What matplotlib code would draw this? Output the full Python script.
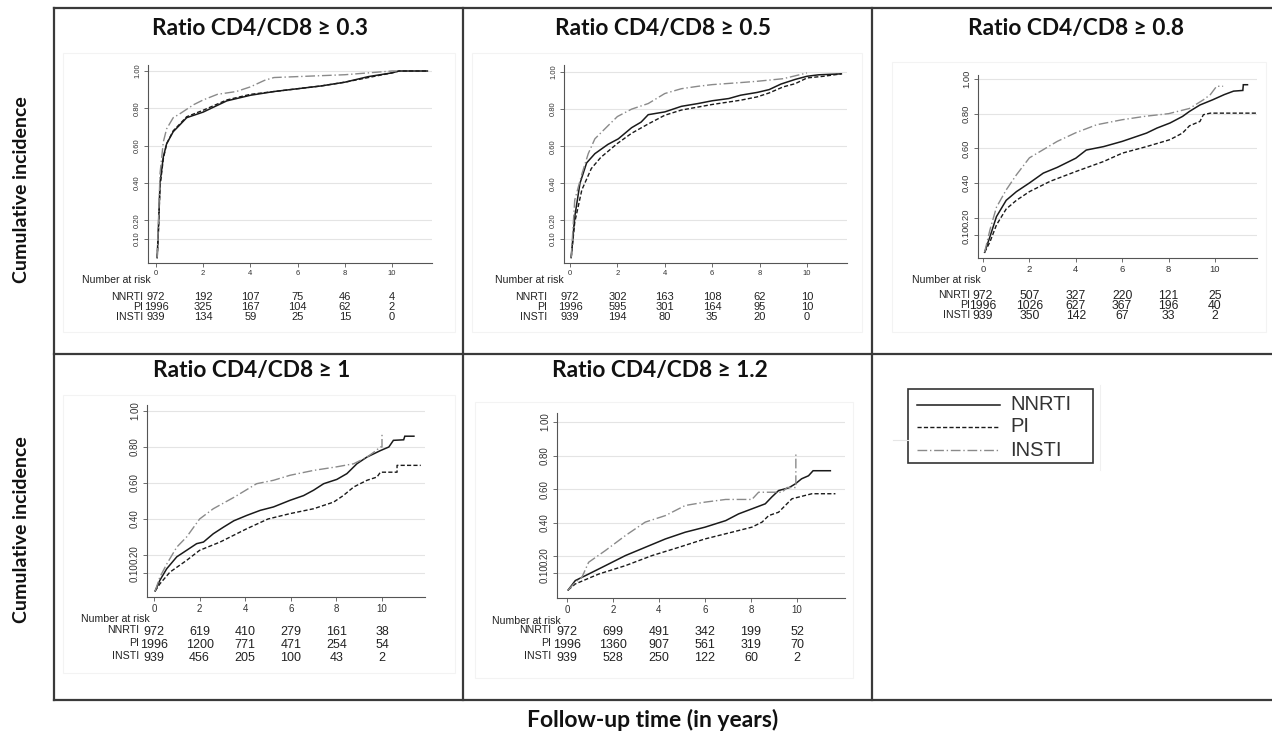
import matplotlib
matplotlib.use("Agg")
import matplotlib.pyplot as plt
from matplotlib.lines import Line2D
from matplotlib.patches import Rectangle
from matplotlib.transforms import blended_transform_factory

# ---------------- data ----------------
groups = ["NNRTI", "PI", "INSTI"]
titles = ["Ratio CD4/CD8 \u2265 0.3", "Ratio CD4/CD8 \u2265 0.5", "Ratio CD4/CD8 \u2265 0.8",
          "Ratio CD4/CD8 \u2265 1", "Ratio CD4/CD8 \u2265 1.2"]
risk_times = [0, 2, 4, 6, 8, 10]
x_ticks = [0, 2, 4, 6, 8, 10]
y_ticks = [0.10, 0.20, 0.40, 0.60, 0.80, 1.00]
y_ticklabels = ["0.10", "0.20", "0.40", "0.60", "0.80", "1.00"]

# Panel 1: ratio >= 0.3
p1_nnrti_t = [0.05, 0.1, 0.17, 0.31, 0.45, 0.73, 1.0, 1.3, 2.0, 3.0, 4.0, 5.0, 6.0, 7.0, 8.0, 9.0, 10.0, 10.3, 11.5]
p1_nnrti_y = [0, 0.15, 0.40, 0.54, 0.61, 0.675, 0.71, 0.75, 0.78, 0.84, 0.87, 0.89, 0.905, 0.92, 0.94, 0.97, 0.99, 1.0, 1.0]
p1_pi_t = [0.05, 0.1, 0.17, 0.31, 0.45, 0.73, 1.0, 1.3, 2.0, 3.0, 4.0, 5.0, 6.0, 7.0, 8.0, 9.0, 10.0, 10.3, 11.5]
p1_pi_y = [0, 0.13, 0.38, 0.53, 0.61, 0.68, 0.715, 0.755, 0.79, 0.845, 0.875, 0.89, 0.905, 0.92, 0.94, 0.965, 0.99, 1.0, 1.0]
p1_insti_t = [0.05, 0.1, 0.17, 0.31, 0.45, 0.73, 1.0, 1.6, 2.0, 2.6, 3.4, 4.0, 4.6, 5.0, 6.0, 8.0, 9.0, 10.0, 10.2]
p1_insti_y = [0, 0.18, 0.45, 0.62, 0.69, 0.75, 0.77, 0.82, 0.845, 0.875, 0.89, 0.915, 0.95, 0.965, 0.97, 0.98, 0.99, 1.0, 1.0]
p1_risk_nnrti = [972, 192, 107, 75, 46, 4]
p1_risk_pi = [1996, 325, 167, 104, 62, 2]
p1_risk_insti = [939, 134, 59, 25, 15, 0]

# Panel 2: ratio >= 0.5
p2_nnrti_t = [0.05, 0.2, 0.42, 0.7, 1.05, 1.6, 2.04, 2.6, 3.0, 3.3, 4.0, 4.7, 5.4, 6.0, 6.7, 7.2, 7.9, 8.4, 8.9, 9.5, 10.0, 10.5, 11.45]
p2_nnrti_y = [0, 0.22, 0.40, 0.51, 0.56, 0.61, 0.64, 0.70, 0.73, 0.77, 0.785, 0.815, 0.83, 0.845, 0.857, 0.875, 0.89, 0.905, 0.935, 0.96, 0.977, 0.985, 0.99]
p2_pi_t = [0.05, 0.2, 0.5, 0.9, 1.3, 2.0, 2.6, 3.3, 4.0, 4.7, 6.0, 7.2, 7.9, 8.4, 9.0, 9.5, 10.0, 10.7, 11.45]
p2_pi_y = [0, 0.19, 0.365, 0.48, 0.54, 0.615, 0.67, 0.72, 0.767, 0.795, 0.825, 0.848, 0.866, 0.887, 0.92, 0.937, 0.968, 0.977, 0.99]
p2_insti_t = [0.05, 0.2, 0.5, 0.77, 1.05, 1.6, 2.0, 2.6, 3.3, 4.0, 4.7, 5.4, 6.0, 7.2, 7.9, 9.0, 10.0]
p2_insti_y = [0, 0.31, 0.45, 0.56, 0.64, 0.71, 0.76, 0.80, 0.83, 0.884, 0.91, 0.923, 0.932, 0.943, 0.95, 0.964, 0.995]
p2_risk_nnrti = [972, 302, 163, 108, 62, 10]
p2_risk_pi = [1996, 595, 301, 164, 95, 10]
p2_risk_insti = [939, 194, 80, 35, 20, 0]

# Panel 3: ratio >= 0.8
p3_nnrti_t = [0.07, 0.3, 0.58, 1.0, 1.44, 2.0, 2.6, 3.2, 4.0, 4.45, 5.2, 6.0, 7.05, 7.5, 8.06, 8.6, 8.9, 9.35, 9.9, 10.4, 10.8, 11.2, 11.22, 11.4]
p3_nnrti_y = [0, 0.09, 0.206, 0.30, 0.35, 0.40, 0.457, 0.49, 0.543, 0.59, 0.61, 0.64, 0.688, 0.717, 0.746, 0.784, 0.813, 0.85, 0.88, 0.91, 0.93, 0.934, 0.967, 0.967]
p3_pi_t = [0.07, 0.3, 0.58, 1.0, 1.44, 2.0, 2.9, 4.0, 5.2, 6.0, 7.05, 8.06, 8.6, 8.9, 9.35, 9.5, 9.8, 11.95]
p3_pi_y = [0, 0.06, 0.158, 0.25, 0.30, 0.35, 0.41, 0.466, 0.524, 0.572, 0.61, 0.65, 0.688, 0.73, 0.755, 0.794, 0.803, 0.803]
p3_insti_t = [0.07, 0.3, 0.58, 1.0, 1.44, 2.0, 3.2, 4.0, 4.9, 6.0, 7.0, 8.0, 8.9, 9.5, 9.8, 10.07, 10.35]
p3_insti_y = [0, 0.13, 0.26, 0.36, 0.447, 0.545, 0.64, 0.69, 0.736, 0.765, 0.785, 0.80, 0.83, 0.88, 0.91, 0.958, 0.958]
p3_risk_nnrti = [972, 507, 327, 220, 121, 25]
p3_risk_pi = [1996, 1026, 627, 367, 196, 40]
p3_risk_insti = [939, 350, 142, 67, 33, 2]

# Panel 4: ratio >= 1
p4_nnrti_t = [0.05, 0.26, 0.56, 1.0, 1.43, 1.87, 2.17, 2.6, 3.05, 3.5, 4.07, 4.66, 5.24, 5.97, 6.56, 7.0, 7.44, 8.02, 8.46, 8.9, 9.34, 9.93, 10.3, 10.5, 10.95, 11.0, 11.4]
p4_nnrti_y = [0, 0.06, 0.124, 0.19, 0.226, 0.263, 0.272, 0.318, 0.355, 0.39, 0.42, 0.448, 0.467, 0.504, 0.53, 0.56, 0.596, 0.62, 0.652, 0.707, 0.744, 0.78, 0.80, 0.837, 0.84, 0.86, 0.86]
p4_pi_t = [0.05, 0.26, 0.7, 1.43, 2.0, 2.9, 4.07, 5.0, 5.97, 7.0, 7.88, 8.3, 8.76, 9.34, 9.78, 9.93, 10.66, 10.66, 11.7]
p4_pi_y = [0, 0.04, 0.105, 0.17, 0.226, 0.272, 0.346, 0.40, 0.43, 0.457, 0.494, 0.53, 0.578, 0.615, 0.633, 0.66, 0.66, 0.698, 0.698]
p4_insti_t = [0.05, 0.26, 0.56, 1.0, 1.43, 2.0, 2.6, 3.5, 4.5, 5.24, 5.97, 7.0, 8.02, 8.76, 9.34, 9.63, 9.93, 10.0, 10.0]
p4_insti_y = [0, 0.078, 0.15, 0.244, 0.30, 0.40, 0.457, 0.52, 0.596, 0.615, 0.643, 0.67, 0.69, 0.707, 0.744, 0.77, 0.80, 0.80, 0.874]
p4_risk_nnrti = [972, 619, 410, 279, 161, 38]
p4_risk_pi = [1996, 1200, 771, 471, 254, 54]
p4_risk_insti = [939, 456, 205, 100, 43, 2]

# Panel 5: ratio >= 1.2
p5_nnrti_t = [0.05, 0.36, 0.94, 1.67, 2.54, 3.4, 4.28, 5.14, 6.0, 6.9, 7.46, 8.04, 8.62, 8.9, 9.2, 9.64, 9.93, 10.2, 10.5, 10.7, 11.45]
p5_nnrti_y = [0, 0.056, 0.095, 0.145, 0.205, 0.254, 0.304, 0.344, 0.374, 0.413, 0.453, 0.483, 0.513, 0.553, 0.592, 0.608, 0.632, 0.662, 0.68, 0.71, 0.71]
p5_pi_t = [0.05, 0.36, 1.38, 2.54, 3.7, 4.86, 6.0, 7.17, 8.04, 8.48, 8.77, 9.2, 9.49, 9.78, 10.07, 10.65, 11.67]
p5_pi_y = [0, 0.036, 0.095, 0.145, 0.205, 0.254, 0.304, 0.344, 0.374, 0.404, 0.443, 0.463, 0.503, 0.543, 0.553, 0.573, 0.573]
p5_insti_t = [0.05, 0.36, 0.65, 0.94, 1.67, 2.54, 3.4, 4.28, 5.14, 6.0, 6.9, 8.04, 8.33, 9.35, 9.57, 9.95, 9.95]
p5_insti_y = [0, 0.046, 0.076, 0.165, 0.235, 0.324, 0.404, 0.443, 0.503, 0.523, 0.539, 0.539, 0.582, 0.582, 0.61, 0.61, 0.82]
p5_risk_nnrti = [972, 699, 491, 342, 199, 52]
p5_risk_pi = [1996, 1360, 907, 561, 319, 70]
p5_risk_insti = [939, 528, 250, 122, 60, 2]

# ---------------- layout ----------------
W, H = 1272, 732
fig = plt.figure(figsize=(W / 100, H / 100), dpi=100)
fig.patch.set_facecolor("white")

TITLE_FONT = ["Lato", "DejaVu Sans"]
STATA_FONT = ["Liberation Sans", "DejaVu Sans"]


def fx(x):
    return x / W


def fy(y):
    return 1 - y / H


def fline(xs, ys, **kw):
    fig.add_artist(Line2D([fx(x) for x in xs], [fy(y) for y in ys],
                          transform=fig.transFigure, **kw))


# outer grid frame
frame_kw = dict(color="#3a3a3a", lw=1.6)
fline([54, W], [8, 8], **frame_kw)
fline([54, W], [354, 354], **frame_kw)
fline([54, W], [700, 700], **frame_kw)
fline([54, 54], [8, 700], **frame_kw)
fline([463, 463], [8, 700], **frame_kw)
fline([872, 872], [8, 700], **frame_kw)

styles = {
    "NNRTI": dict(color="#1a1a1a", lw=1.1, ls="-"),
    "PI": dict(color="#1a1a1a", lw=1.0, ls=(0, (3.0, 1.6))),
    "INSTI": dict(color="#8a8a8a", lw=1.0, ls=(0, (7.0, 2.0, 1.0, 2.0))),
}

# pixel geometry per panel: x0, x10, y0 (value 0), y1 (value 1), left, right, top, bottom
panels = [
    dict(title=titles[0], tcx=260, tcy=29, geo=(156, 392, 257.7, 71, 148, 432, 65, 263),
         series=[(p1_nnrti_t, p1_nnrti_y), (p1_pi_t, p1_pi_y), (p1_insti_t, p1_insti_y)],
         risk=[p1_risk_nnrti, p1_risk_pi, p1_risk_insti],
         nr=(82, 280), rows=(297, 307, 317), labr=143, labdy=0, lfs=7.6, fs=8.0, tfs=5.5,
         frame=(63, 53, 455, 332)),
    dict(title=titles[1], tcx=663, tcy=29, geo=(570, 807, 257.6, 72, 564, 847, 65, 263),
         series=[(p2_nnrti_t, p2_nnrti_y), (p2_pi_t, p2_pi_y), (p2_insti_t, p2_insti_y)],
         risk=[p2_risk_nnrti, p2_risk_pi, p2_risk_insti],
         nr=(495, 280), rows=(297, 307, 317), labr=547, labdy=0, lfs=7.6, fs=8.0, tfs=5.5,
         frame=(472, 53, 862, 332)),
    dict(title=titles[2], tcx=1076, tcy=29, geo=(983, 1215, 252.3, 79, 978, 1257, 75, 258),
         series=[(p3_nnrti_t, p3_nnrti_y), (p3_pi_t, p3_pi_y), (p3_insti_t, p3_insti_y)],
         risk=[p3_risk_nnrti, p3_risk_pi, p3_risk_insti],
         nr=(912, 280), rows=(296, 306, 316), labr=970, labdy=1, lfs=7.6, fs=8.8, tfs=6.8,
         frame=(892, 62, 1266, 332)),
    dict(title=titles[3], tcx=252, tcy=371, geo=(154, 382, 591, 411, 147, 425, 405, 597),
         series=[(p4_nnrti_t, p4_nnrti_y), (p4_pi_t, p4_pi_y), (p4_insti_t, p4_insti_y)],
         risk=[p4_risk_nnrti, p4_risk_pi, p4_risk_insti],
         nr=(81, 619), rows=(632, 645, 658), labr=139, labdy=2, lfs=7.6, fs=9.0, tfs=7.0,
         frame=(63, 395, 455, 673)),
    dict(title=titles[4], tcx=660, tcy=371, geo=(567, 797, 590, 422, 557, 845, 413, 598),
         series=[(p5_nnrti_t, p5_nnrti_y), (p5_pi_t, p5_pi_y), (p5_insti_t, p5_insti_y)],
         risk=[p5_risk_nnrti, p5_risk_pi, p5_risk_insti],
         nr=(492, 621), rows=(632, 645, 658), labr=551, labdy=2, lfs=7.6, fs=9.0, tfs=7.0,
         frame=(475, 402, 853, 678)),
]

for p in panels:
    x0, x10, y0, y1, left, right, top, bottom = p["geo"]
    # faint Stata graph-region frame
    fl, ft, fr, fb = p["frame"]
    fig.add_artist(Rectangle((fx(fl), fy(fb)), (fr - fl) / W, (fb - ft) / H,
                             transform=fig.transFigure, fill=False, ec="#f3f3f3", lw=0.8))
    fig.text(fx(p["tcx"]), fy(p["tcy"]), p["title"], ha="center", va="center",
             fontsize=16.3, fontweight="bold", family=TITLE_FONT, color="#111111")

    ax = fig.add_axes([fx(left), fy(bottom), (right - left) / W, (bottom - top) / H])
    sx = (x10 - x0) / 10.0
    sy = (y0 - y1)
    ax.set_xlim((left - x0) / sx, (right - x0) / sx)
    ax.set_ylim((y0 - bottom) / sy, (y0 - top) / sy)
    ax.patch.set_alpha(0)
    for s in ["top", "right"]:
        ax.spines[s].set_visible(False)
    for s in ["left", "bottom"]:
        ax.spines[s].set_color("#555555")
        ax.spines[s].set_linewidth(0.8)
    ax.set_xticks(x_ticks)
    ax.set_xticklabels([str(t) for t in x_ticks], family=STATA_FONT)
    ax.set_yticks(y_ticks)
    ax.set_yticklabels(y_ticklabels, rotation=90, va="center", family=STATA_FONT)
    ax.tick_params(length=3, width=0.6, color="#555555", labelsize=p["tfs"],
                   labelcolor="#333333", pad=2)
    ax.yaxis.grid(True, color="#e4e4e4", lw=0.8)
    ax.set_axisbelow(True)

    for g, (t, y) in zip(groups, p["series"]):
        ax.plot(t, y, **styles[g], solid_joinstyle="miter")

    # number at risk table
    tr = blended_transform_factory(ax.transData, fig.transFigure)
    fig.text(fx(p["nr"][0]), fy(p["nr"][1]), "Number at risk", ha="left", va="center",
             fontsize=p["lfs"], family=STATA_FONT, color="#222222")
    for g, vals, ry in zip(groups, p["risk"], p["rows"]):
        fig.text(fx(p["labr"]), fy(ry - p["labdy"]), g, ha="right", va="center",
                 fontsize=p["lfs"], family=STATA_FONT, color="#222222")
        for tt, v in zip(risk_times, vals):
            ax.text(tt, fy(ry), str(v), transform=tr, ha="center", va="center",
                    fontsize=p["fs"], family=STATA_FONT, color="#222222")

# axis titles
fig.text(fx(22), fy(190), "Cumulative incidence", rotation=90, ha="center", va="center",
         fontsize=14, fontweight="bold", family=TITLE_FONT, color="#111111")
fig.text(fx(22), fy(530), "Cumulative incidence", rotation=90, ha="center", va="center",
         fontsize=14, fontweight="bold", family=TITLE_FONT, color="#111111")
fig.text(fx(653), fy(720), "Follow-up time (in years)", ha="center", va="center",
         fontsize=16.5, fontweight="bold", family=TITLE_FONT, color="#111111")

# legend
fig.add_artist(Rectangle((fx(908), fy(463)), 185 / W, 74 / H, transform=fig.transFigure,
                         fill=False, ec="#333333", lw=1.2))
fline([893, 908], [440, 440], color="#e6e6e6", lw=0.8)
fline([1100, 1100], [385, 470], color="#f0f0f0", lw=0.8)
for g, ly in zip(groups, [405, 427, 450]):
    fline([917, 1000], [ly, ly], **styles[g])
    fig.text(fx(1010), fy(ly), g, ha="left", va="center", fontsize=14.5,
             family=STATA_FONT, color="#333333")

fig.savefig("out.png", dpi=100, facecolor="white")
